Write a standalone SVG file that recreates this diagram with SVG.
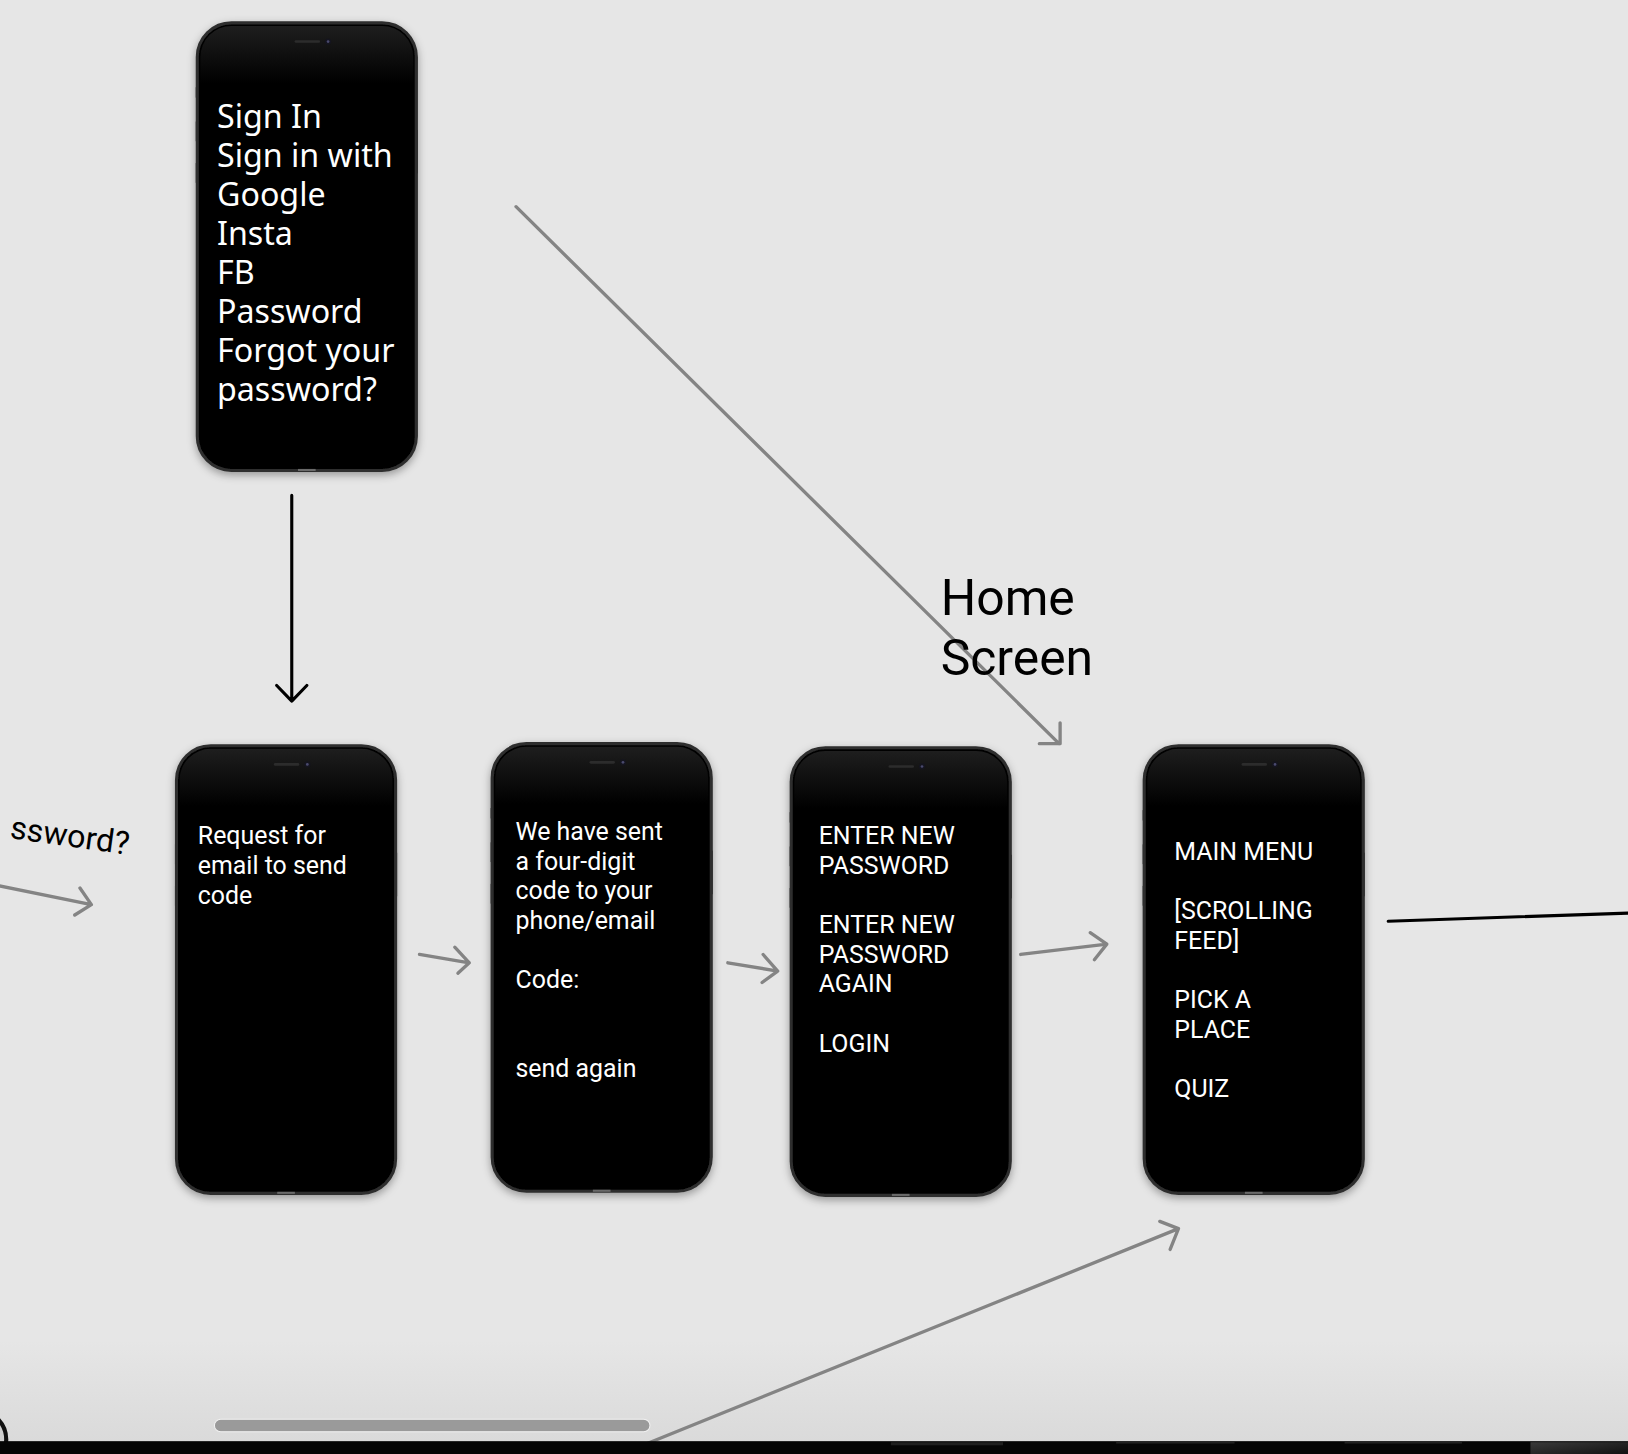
<svg xmlns="http://www.w3.org/2000/svg" xmlns:xlink="http://www.w3.org/1999/xlink" width="1628" height="1454" viewBox="0 0 1628 1454">
<style>
.scr{font-family:Roboto,"Liberation Sans",sans-serif;fill:#fff;}
.big{font-family:"Noto Sans","Open Sans",sans-serif;font-size:31px;}
.sm{font-size:24px;}
.lbl{font-family:Roboto,"Liberation Sans",sans-serif;fill:#000;}
.gray{fill:none;stroke:#848484;stroke-width:3.2;stroke-linecap:round;stroke-linejoin:round;}
.blk{fill:none;stroke:#000;stroke-width:3;stroke-linecap:round;stroke-linejoin:round;}
</style>
<defs>
<filter id="sh" x="-10%" y="-10%" width="120%" height="120%">
<feDropShadow dx="0" dy="3" stdDeviation="4" flood-color="#000" flood-opacity="0.35"/>
</filter>
<linearGradient id="topg" x1="0" y1="0" x2="0" y2="1">
<stop offset="0" stop-color="#1e1e1e"/>
<stop offset="0.13" stop-color="#000"/>
<stop offset="1" stop-color="#000"/>
</linearGradient>
<linearGradient id="bg" x1="0" y1="0" x2="0" y2="1">
<stop offset="0" stop-color="#e6e6e6"/>
<stop offset="1" stop-color="#dadada"/>
</linearGradient>
<linearGradient id="corner" x1="0" y1="0" x2="1" y2="1">
<stop offset="0" stop-color="#3a3a3a"/>
<stop offset="1" stop-color="#111"/>
</linearGradient>
<g id="phone">
<rect x="-1.5" y="62" width="3" height="10" fill="#3a3a3a"/>
<rect x="-1.5" y="95" width="3" height="19" fill="#3a3a3a"/>
<rect x="-1.5" y="135" width="3" height="19" fill="#3a3a3a"/>
<rect x="209.5" y="103" width="3" height="42" fill="#3a3a3a"/>
<rect x="0" y="0" width="211" height="431" rx="33" fill="#000" stroke="#2e2e2e" stroke-width="3" filter="url(#sh)"/>
<rect x="3" y="3" width="205" height="425" rx="30" fill="url(#topg)"/>
<line x1="95" y1="18" x2="117" y2="18" stroke="#2c2c2c" stroke-width="2.5" stroke-linecap="round"/>
<circle cx="126" cy="18" r="3" fill="#15151f"/>
<circle cx="126" cy="18" r="1.3" fill="#4a4a6e"/>
<rect x="97" y="429.5" width="17" height="2" fill="#6a6a6a"/>
</g>
</defs>
<g transform="scale(1.0383 1.0386)">
<rect x="0" y="0" width="1568" height="1400" fill="#e6e6e6"/>
<rect x="0" y="1290" width="1568" height="98" fill="url(#bg)"/>

<g id="connectors">
<path class="gray" d="M497,199 L1020,716 M1001,716 L1021,716 L1021,696"/>
<path class="gray" d="M983,919 L1066,909 M1050,898 L1066,909 L1054,924"/>
<path class="gray" d="M404,919 L452,927 M438,912 L452,927 L441,937"/>
<path class="gray" d="M701,927 L749,935 M735,919 L749,935 L734,946"/>
<path class="gray" d="M-2,852.6 L88,871 M77,855 L88,871 L72,881"/>
<path class="gray" d="M618,1392 L1135,1183 M1117,1176 L1135,1183 L1127,1203"/>
<path class="blk" d="M281,477 L281,675 M266.5,660 L281,675 L295.5,660"/>
<path class="blk" d="M1337,887 L1572,879"/>
</g>

<g id="node-signin">
<use xlink:href="#phone" x="190" y="22"/>
<text class="scr big" x="209" y="123.5">Sign In</text>
<text class="scr big" x="209" y="161">Sign in with</text>
<text class="scr big" x="209" y="198.5">Google</text>
<text class="scr big" x="209" y="236">Insta</text>
<text class="scr big" x="209" y="273.5">FB</text>
<text class="scr big" x="209" y="311">Password</text>
<text class="scr big" x="209" y="348.5">Forgot your</text>
<text class="scr big" x="209" y="386">password?</text>
</g>

<g id="node-request">
<use xlink:href="#phone" x="170" y="718"/>
<text class="scr sm" x="190.5" y="813">Request for</text>
<text class="scr sm" x="190.5" y="841.5">email to send</text>
<text class="scr sm" x="190.5" y="870">code</text>
</g>

<g id="node-code">
<use xlink:href="#phone" x="474" y="716"/>
<text class="scr sm" x="496.5" y="809">We have sent</text>
<text class="scr sm" x="496.5" y="837.5">a four-digit</text>
<text class="scr sm" x="496.5" y="866">code to your</text>
<text class="scr sm" x="496.5" y="894.5">phone/email</text>
<text class="scr sm" x="496.5" y="951.5">Code:</text>
<text class="scr sm" x="496.5" y="1037">send again</text>
</g>

<g id="node-newpass">
<use xlink:href="#phone" x="762" y="720"/>
<text class="scr sm" x="788.5" y="813">ENTER NEW</text>
<text class="scr sm" x="788.5" y="841.5">PASSWORD</text>
<text class="scr sm" x="788.5" y="898.5">ENTER NEW</text>
<text class="scr sm" x="788.5" y="927">PASSWORD</text>
<text class="scr sm" x="788.5" y="955.5">AGAIN</text>
<text class="scr sm" x="788.5" y="1012.5">LOGIN</text>
</g>

<g id="node-home">
<use xlink:href="#phone" x="1102" y="718"/>
<text class="scr sm" x="1131" y="828">MAIN MENU</text>
<text class="scr sm" x="1131" y="885">[SCROLLING</text>
<text class="scr sm" x="1131" y="913.5">FEED]</text>
<text class="scr sm" x="1131" y="970.5">PICK A</text>
<text class="scr sm" x="1131" y="999">PLACE</text>
<text class="scr sm" x="1131" y="1056">QUIZ</text>
</g>

<g id="label-home">
<text class="lbl" font-size="48" x="906" y="592">Home</text>
<text class="lbl" font-size="48" x="906" y="650">Screen</text>
</g>

<g id="label-forgot">
<text class="lbl" font-family="'Noto Sans','Open Sans',sans-serif" font-size="31" x="123" y="823" text-anchor="end" transform="rotate(8 123 823)">ssword?</text>
</g>

<g id="window-chrome">
<circle cx="-22" cy="1386" r="28" fill="#cfcfcf" stroke="#111" stroke-width="4"/>
<rect x="206.5" y="1366.5" width="419.5" height="12" rx="6" fill="#9a9a9a" stroke="#f2f2f2" stroke-width="1"/>
<rect x="0" y="1387.6" width="1568" height="13" fill="#050505"/>
<rect x="858" y="1388.6" width="108" height="3" fill="#1f1f1f"/>
<rect x="1075" y="1388.6" width="114" height="1.2" fill="#2a2a2a"/>
<rect x="1295" y="1388.6" width="113" height="1.2" fill="#2a2a2a"/>
<rect x="1474" y="1388.6" width="94" height="12" fill="url(#corner)"/>
</g>
</g>
</svg>
